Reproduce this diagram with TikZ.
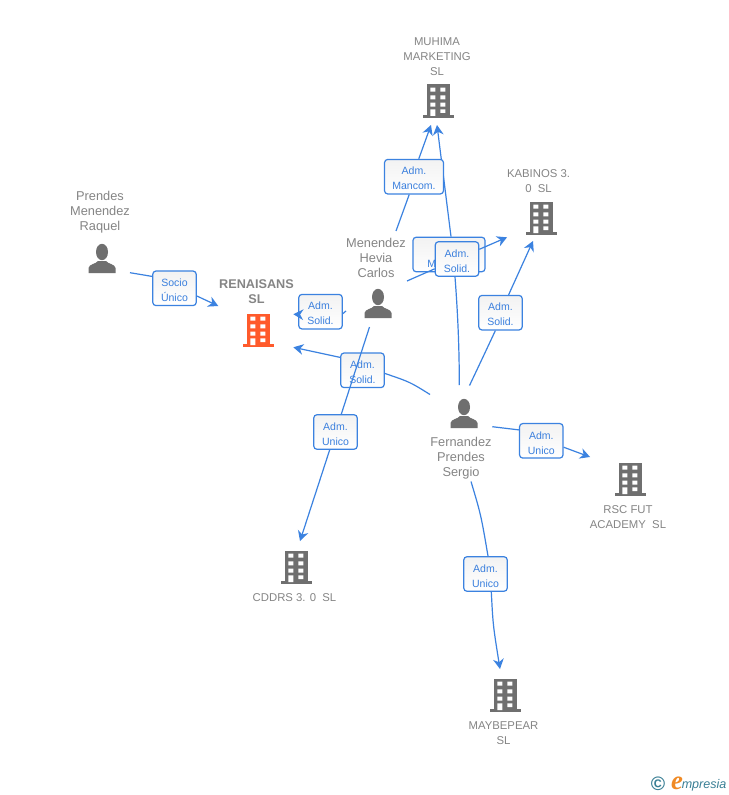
\documentclass[tikz,border=0pt]{standalone}
\usepackage{fontspec}
\setmainfont{Liberation Sans}
\newfontfamily\logoserif{Liberation Serif}
\usetikzlibrary{arrows.meta}
\definecolor{linkblue}{HTML}{3B82E0}
\definecolor{labelblue}{HTML}{3A7FDD}
\definecolor{icongray}{HTML}{6F6F6F}
\definecolor{textgray}{HTML}{858585}
\definecolor{hotorange}{HTML}{FF5A2B}
\definecolor{logoteal}{HTML}{3A7F95}
\definecolor{logoorange}{HTML}{F08A24}
\newcommand\tagtext[2]{\rule{0pt}{8.7pt}#1\\#2}
\tikzset{
  x=0.75pt,y=-0.75pt,
  edge/.style={draw=linkblue,line width=0.9pt},
  arrowedge/.style={edge,-{Stealth[length=7.5pt,width=8pt,inset=2.4pt]}},
  tag/.style={draw=linkblue,line width=0.9pt,rounded corners=2.4pt,top color=black!5,bottom color=white,
    text=labelblue,align=center,inner sep=0pt,minimum width=32.6pt,minimum height=25.9pt,
    font=\fontsize{7.9}{11.2}\selectfont},
  widetag/.style={tag,minimum width=44.2pt},
  hugetag/.style={tag,minimum width=54pt},
  person/.style={text=textgray,align=center,inner sep=0pt,font=\fontsize{9.6}{11.25}\selectfont},
  firm/.style={text=textgray,align=center,inner sep=0pt,font=\fontsize{8.5}{11.25}\selectfont},
  mainfirm/.style={text=textgray,align=center,inner sep=0pt,font=\bfseries\fontsize{9.5}{11.25}\selectfont},
  spot/.style={inner sep=0pt,minimum size=22pt},
  pics/bldg/.style={code={
    \fill[#1] (-11.5,-16.5) rectangle (11.5,14);
    \fill[#1] (-15.5,14) rectangle (15.5,17);
    \fill[white] (-7.7,-13.3) rectangle (-2.7,-9.3) (2.3,-13.3) rectangle (7.3,-9.3)
      (-7.7,-5.7) rectangle (-2.7,-1.7) (2.3,-5.7) rectangle (7.3,-1.7)
      (-7.7,1.7) rectangle (-2.7,5.7) (2.3,1.7) rectangle (7.3,5.7)
      (-7.7,8.3) rectangle (-2.7,15) (2.3,8.3) rectangle (7.3,12);
  }},
  pics/human/.style={code={
    \fill[icongray] (0,-7) ellipse [x radius=6,y radius=8.2];
    \fill[icongray] (-13.5,14) -- (-13.5,9) .. controls (-13,5) and (-6,5) .. (-4,2)
      -- (4,2) .. controls (6,5) and (13,5) .. (13.5,9) -- (13.5,14) -- cycle;
  }}
}
\begin{document}
\begin{tikzpicture}
\useasboundingbox (0,0) rectangle (728,795);
\fill[white] (0,0) rectangle (728,795);

% icons
\node[spot] (iMuhima) at (438,101) {};  \pic at (iMuhima) {bldg=icongray};
\node[spot] (iKabinos) at (541,218) {}; \pic at (iKabinos) {bldg=icongray};
\node[spot] (iRenaisans) at (258,330) {}; \pic at (iRenaisans) {bldg=hotorange};
\node[spot] (iRsc) at (630,479) {};     \pic at (iRsc) {bldg=icongray};
\node[spot] (iCddrs) at (296,567) {};   \pic at (iCddrs) {bldg=icongray};
\node[spot] (iMaybe) at (505,695) {};   \pic at (iMaybe) {bldg=icongray};
\node[spot] (pPrendes) at (102,259) {}; \pic at (pPrendes) {human};
\node[spot] (pMenendez) at (378,304) {}; \pic at (pMenendez) {human};
\node[spot] (pFernandez) at (464,414) {}; \pic at (pFernandez) {human};

% names
\node[firm] (tMuhima) at (437,56.8) {MUHIMA\\MARKETING\\SL};
\node[firm] (tKabinos) at (538.5,181.3) {KABINOS 3.\\0\ \ SL};
\node[person] (tPrendes) at (100,211.8) {Prendes\\Menendez\\Raquel};
\node[mainfirm] (tRenaisans) at (256.5,292) {RENAISANS\\SL};
\node[person] (tMenendez) at (376,257.8) {Menendez\\Hevia\\Carlos};
\node[person] (tFernandez) at (461,457.8) {Fernandez\\Prendes\\Sergio};
\node[firm] (tRsc) at (628,517.3) {RSC FUT\\ACADEMY\ \ SL};
\node[firm] (tCddrs) at (294.5,597.5) {CDDRS 3. 0\ \ SL};
\node[firm] (tMaybe) at (503.5,733.3) {MAYBEPEAR\\SL};

% free ends
\coordinate (a1) at (130,272.7);   \coordinate (b1) at (218.3,306);
\coordinate (a2) at (346,311);     \coordinate (b2) at (293.3,314.2);
\coordinate (a3) at (430,394.5);   \coordinate (b3) at (293.3,347.3);
\coordinate (a4) at (396,231);     \coordinate (b4) at (431,125);
\coordinate (a5) at (369.5,327);   \coordinate (b5) at (300,541);
\coordinate (a6) at (407,281);     \coordinate (b6) at (507,237.3);
\coordinate (a7) at (459.3,385);   \coordinate (b7) at (437,125);
\coordinate (a8) at (469.5,385.5); \coordinate (b8) at (533,241);
\coordinate (a9) at (492.3,426.7); \coordinate (b9) at (590,457);
\coordinate (a10) at (471,481.5);  \coordinate (b10) at (500,669);

% Fernandez -> Muhima (under its label)
\node[hugetag] (l7) at (449,254.5) {\tagtext{Adm.}{Mancom.}};
\draw[arrowedge] ([xshift=1.5pt]l7.north) -- (b7);

% Menendez -> Muhima
\node[widetag] (l4) at (414,176.7) {\tagtext{Adm.}{Mancom.}};
\draw[edge] (a4) -- (l4.-105);
\draw[arrowedge] (l4.75) -- (b4);

% Menendez -> Kabinos
\node[tag] (l6) at (457,259) {\tagtext{Adm.}{Solid.}};
\draw[edge] (a6) -- (l6);
\draw[arrowedge] (l6) -- (b6);
\draw[edge] (a7) .. controls (459.3,345) and (457.5,310) .. ([xshift=-1.5pt]l6.south);

% Prendes -> Renaisans
\node[tag] (l1) at (174.5,288.3) {\tagtext{Socio}{Único}};
\draw[edge] (a1) -- (l1.152);
\draw[arrowedge] (l1.-19.5) -- (b1);

% Menendez -> Renaisans
\node[tag] (l2) at (320.5,311.7) {\tagtext{Adm.}{Solid.}};
\draw[edge] (a2) -- (l2.-5);
\draw[arrowedge] (l2.-173) -- (b2);

% Fernandez -> Renaisans
\node[tag] (l3) at (362.5,370.3) {\tagtext{Adm.}{Solid.}};
\draw[edge] (a3) .. controls (410,382) .. (l3.-8);
\draw[arrowedge] (l3.150) -- (b3);

% Menendez -> Cddrs
\draw[edge] (a5) -- (335.5,432);
\node[tag] (l5) at (335.5,432) {\tagtext{Adm.}{Unico}};
\draw[arrowedge] (l5) -- (b5);

% Fernandez -> Kabinos
\node[tag] (l8) at (500.5,312.7) {\tagtext{Adm.}{Solid.}};
\draw[edge] (a8) .. controls (483,357) .. (l8.-106);
\draw[arrowedge] (l8) -- (b8);

% Fernandez -> Rsc
\node[tag] (l9) at (541.3,440.8) {\tagtext{Adm.}{Unico}};
\draw[edge] (a9) -- (l9.154.5);
\draw[arrowedge] (l9.-16.5) -- (b9);

% Fernandez -> Maybepear
\node[tag] (l10) at (485.5,574) {\tagtext{Adm.}{Unico}};
\draw[edge] (a10) .. controls (481,515) .. (l10.82);
\draw[arrowedge] (l10.-72.4) .. controls (493,625) .. (b10);

% logo
\node[text=logoteal,inner sep=0pt,font=\bfseries\fontsize{14.6}{15}\selectfont] (logoC) at (658,783.5) {©};
\node[text=logoorange,inner sep=0pt,anchor=base,font=\logoserif\bfseries\itshape\fontsize{20}{20}\selectfont] (logoE) at (677,789) {e};
\node[text=logoteal,inner sep=0pt,anchor=base west,font=\itshape\fontsize{9.4}{10}\selectfont] (logoT) at (681.5,788) {mpresia};
\end{tikzpicture}
\end{document}
